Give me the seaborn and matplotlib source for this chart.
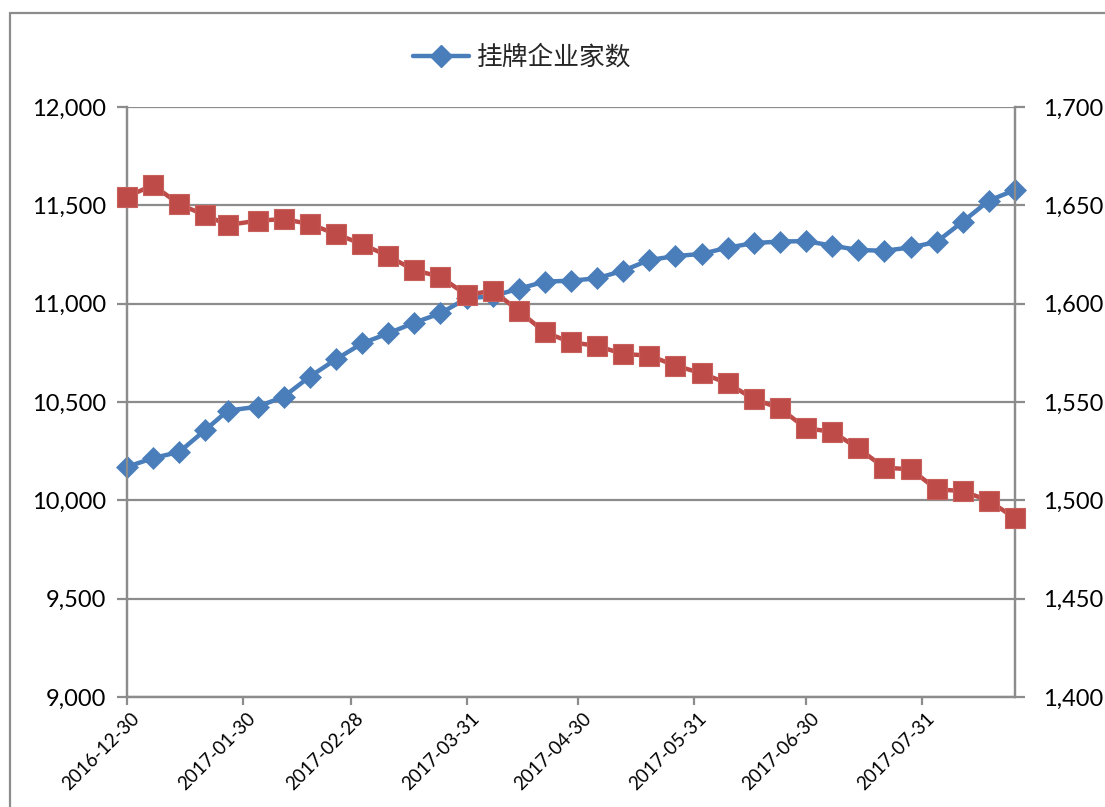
import matplotlib
matplotlib.use("Agg")
import matplotlib.pyplot as plt
from matplotlib.lines import Line2D
from matplotlib.ticker import FuncFormatter
from matplotlib.transforms import ScaledTranslation
import pandas as pd
import seaborn as sns

# Weekly observation dates (last trading day of each week)
dates = [
    "2016-12-30", "2017-01-06", "2017-01-13", "2017-01-20", "2017-01-26",
    "2017-02-03", "2017-02-10", "2017-02-17", "2017-02-24", "2017-03-03",
    "2017-03-10", "2017-03-17", "2017-03-24", "2017-03-31", "2017-04-07",
    "2017-04-14", "2017-04-21", "2017-04-28", "2017-05-05", "2017-05-12",
    "2017-05-19", "2017-05-26", "2017-06-02", "2017-06-09", "2017-06-16",
    "2017-06-23", "2017-06-30", "2017-07-07", "2017-07-14", "2017-07-21",
    "2017-07-28", "2017-08-04", "2017-08-11", "2017-08-18", "2017-08-25",
]

# Number of listed companies (left axis)
listed_companies = [
    10170, 10215, 10246, 10358, 10456, 10476, 10527, 10629, 10717, 10798,
    10849, 10903, 10951, 11027, 11038, 11076, 11112, 11117, 11129, 11168,
    11222, 11242, 11253, 11285, 11308, 11316, 11318, 11295, 11273, 11269,
    11286, 11314, 11417, 11524, 11578,
]

# Second series on the right axis
right_series = [
    1654.4, 1660.3, 1650.5, 1645.0, 1640.0, 1642.2, 1643.0, 1640.5, 1635.4, 1630.3,
    1624.2, 1617.0, 1613.7, 1604.4, 1606.6, 1596.4, 1585.4, 1580.4, 1578.5, 1574.4,
    1573.6, 1568.5, 1564.6, 1559.5, 1551.5, 1546.8, 1536.6, 1534.9, 1526.4, 1516.6,
    1515.8, 1505.6, 1504.7, 1499.8, 1490.9,
]

tick_dates = [
    "2016-12-30", "2017-01-30", "2017-02-28", "2017-03-31",
    "2017-04-30", "2017-05-31", "2017-06-30", "2017-07-31",
]
left_ticks = [9000, 9500, 10000, 10500, 11000, 11500, 12000]
right_ticks = [1400, 1450, 1500, 1550, 1600, 1650, 1700]
legend_label = "挂牌企业家数"

BLUE = "#4A7EBB"
RED = "#BE4B48"
GRAY = "#8C8C8C"

sns.set_style("white")
plt.rcParams["font.family"] = ["Lato", "Noto Sans CJK SC", "DejaVu Sans"]

df = pd.DataFrame({
    "date": pd.to_datetime(dates),
    "listed": listed_companies,
    "right": right_series,
})

W, H = 1105, 807
fig = plt.figure(figsize=(W / 100, H / 100), dpi=100)
ax = fig.add_axes([127 / W, 1 - 697 / H, 888 / W, 590 / H])

sns.lineplot(data=df, x="date", y="listed", ax=ax, color=BLUE, linewidth=3.2,
             marker="D", markersize=11, markeredgecolor=BLUE, markeredgewidth=0.5,
             clip_on=False, label=legend_label, legend=False, zorder=3)

ax2 = ax.twinx()
sns.lineplot(data=df, x="date", y="right", ax=ax2, color=RED, linewidth=3.2,
             marker="s", markersize=14, markeredgecolor="#C8605D", markeredgewidth=0.8,
             clip_on=False, legend=False, zorder=3)

x0, x1 = pd.Timestamp(dates[0]), pd.Timestamp(dates[-1])
ax.set_xlim(x0, x1)
ax.set_ylim(9000, 12000)
ax2.set_ylim(1400, 1700)

ax.set_yticks(left_ticks)
ax2.set_yticks(right_ticks)
fmt = FuncFormatter(lambda v, p: f"{int(round(v)):,}")
ax.yaxis.set_major_formatter(fmt)
ax2.yaxis.set_major_formatter(fmt)

# Date ticks; labels are drawn as rotated text hanging below each tick
tick_pos = pd.to_datetime(tick_dates)
ax.set_xticks(tick_pos)
ax.set_xticklabels([])
label_offset = ScaledTranslation(4 / 100, -13 / 100, fig.dpi_scale_trans)
for pos, txt in zip(tick_pos, tick_dates):
    ax.text(pos, 0, txt, transform=ax.get_xaxis_transform() + label_offset,
            rotation=45, ha="right", va="top", rotation_mode="anchor",
            fontsize=13.5, color="black", clip_on=False)

ax.set_xlabel("")
ax.set_ylabel("")
ax2.set_xlabel("")
ax2.set_ylabel("")

# Gridlines and axis styling
ax.yaxis.grid(True, color=GRAY, linewidth=1.6)
ax.xaxis.grid(False)
ax.set_axisbelow(True)
for a in (ax, ax2):
    a.spines["top"].set_visible(False)
    for s in ("left", "right", "bottom"):
        a.spines[s].set_color(GRAY)
        a.spines[s].set_linewidth(1.6)

ax.tick_params(axis="y", which="both", left=True, length=7, width=1.6, color=GRAY,
               labelsize=17, pad=8, labelcolor="black")
ax2.tick_params(axis="y", which="both", right=True, length=7, width=1.6, color=GRAY,
                labelsize=17, pad=13, labelcolor="black")
ax.tick_params(axis="x", bottom=True, length=6, width=1.6, color=GRAY)

# Legend above the plot area
handle = Line2D([], [], color=BLUE, linewidth=3.2, marker="D", markersize=11,
                markeredgecolor=BLUE)
leg = fig.legend([handle], [legend_label], loc="center",
                 bbox_to_anchor=(522 / W, 1 - 58 / H), frameon=False,
                 handlelength=2.2, handletextpad=0.3,
                 prop={"family": ["Noto Sans CJK SC", "DejaVu Sans"], "size": 18.5})

# Outer chart frame
fig.add_artist(Line2D([10 / W, 10 / W], [1 - 13 / H, 0], transform=fig.transFigure,
                      color=GRAY, linewidth=1.6))
fig.add_artist(Line2D([10 / W, 1], [1 - 13 / H, 1 - 13 / H], transform=fig.transFigure,
                      color=GRAY, linewidth=1.6))

fig.savefig("out.png", dpi=100)
